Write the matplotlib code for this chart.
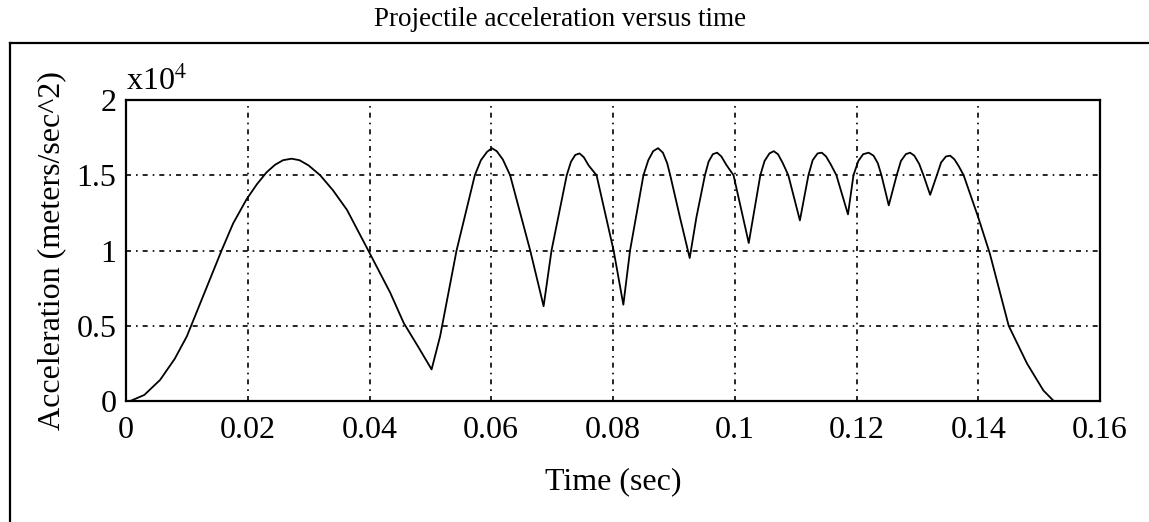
import matplotlib.pyplot as plt
from matplotlib.lines import Line2D
import numpy as np

plt.rcParams['font.family'] = ['Liberation Serif', 'DejaVu Serif']
plt.rcParams['mathtext.fontset'] = 'stix'

# Datos (tiempo en s, aceleracion en m/s^2)
tiempo = [0.0007, 0.0030, 0.0056, 0.0080, 0.0100, 0.0133, 0.0157, 0.0176, 0.0198,
          0.0215, 0.0231, 0.0245, 0.0258, 0.0272, 0.0285, 0.0300, 0.0319, 0.0340,
          0.0363, 0.0398, 0.0434, 0.0456, 0.0480, 0.0502, 0.0516, 0.0543, 0.0573,
          0.0583, 0.0593, 0.0601, 0.0609, 0.0619, 0.0631, 0.0664, 0.0686, 0.0699,
          0.0724, 0.0731, 0.0738, 0.0745, 0.0752, 0.0760, 0.0773, 0.0801, 0.0817,
          0.0828, 0.0850, 0.0858, 0.0866, 0.0874, 0.0882, 0.0889, 0.0894, 0.0910,
          0.0926, 0.0937, 0.0951, 0.0957, 0.0964, 0.0971, 0.0978, 0.0986, 0.0998,
          0.1023, 0.1042, 0.1049, 0.1057, 0.1064, 0.1071, 0.1079, 0.1088, 0.1107,
          0.1121, 0.1128, 0.1136, 0.1143, 0.1150, 0.1158, 0.1167, 0.1186, 0.1195,
          0.1203, 0.1211, 0.1220, 0.1228, 0.1235, 0.1241, 0.1253, 0.1266, 0.1273,
          0.1281, 0.1288, 0.1295, 0.1303, 0.1310, 0.1321, 0.1332, 0.1339, 0.1347,
          0.1354, 0.1361, 0.1368, 0.1376, 0.1400, 0.1419, 0.1450, 0.1480, 0.1507,
          0.1524]
aceleracion = [0, 400, 1400, 2800, 4300, 7600, 10000, 11800, 13400,
               14400, 15200, 15700, 16000, 16100, 16000, 15650, 15000, 14000,
               12700, 10000, 7200, 5200, 3600, 2100, 4300, 10000, 15000,
               16000, 16550, 16800, 16600, 16050, 15000, 10000, 6300, 10000,
               15000, 15900, 16350, 16450, 16200, 15650, 15000, 10000, 6400,
               10000, 15000, 16000, 16600, 16800, 16500, 15800, 15000, 12200,
               9500, 12200, 15000, 15900, 16400, 16500, 16250, 15700, 15000,
               10500, 15000, 15950, 16450, 16600, 16400, 15800, 15000, 12000,
               15000, 16000, 16450, 16500, 16250, 15700, 15000, 12400, 15000,
               15950, 16400, 16500, 16300, 15800, 15000, 13000, 15000, 15950,
               16400, 16500, 16300, 15750, 15000, 13700, 15000, 15850, 16250,
               16300, 16050, 15600, 15000, 12200, 9800, 5000, 2500, 700,
               0]

xticks = [0, 0.02, 0.04, 0.06, 0.08, 0.1, 0.12, 0.14, 0.16]
xtick_labels = ['0', '0.02', '0.04', '0.06', '0.08', '0.1', '0.12', '0.14', '0.16']
yticks = [0, 0.5, 1, 1.5, 2]
ytick_labels = ['0', '0.5', '1', '1.5', '2']

fig = plt.figure(figsize=(11.49, 5.22), dpi=100)
ax = fig.add_axes([126 / 1149, 1 - 401 / 522, (1100 - 126) / 1149, (401 - 100) / 522])

ax.plot(tiempo, np.array(aceleracion) / 1e4, color='black', linewidth=1.3)

ax.set_xlim(0, 0.16)
ax.set_ylim(0, 2)
ax.set_xticks(xticks)
ax.set_xticklabels(xtick_labels)
ax.set_yticks(yticks)
ax.set_yticklabels(ytick_labels)
ax.tick_params(direction='in', length=0, labelsize=23, pad=7)
ax.tick_params(axis='x', pad=11)
ax.grid(True, color='black', linestyle=(0, (3, 3, 1, 3)), linewidth=1.2)
for s in ax.spines.values():
    s.set_linewidth(1.6)

ax.text(0, 1.01, r'x10$^{4}$', transform=ax.transAxes, fontsize=23, ha='left', va='bottom')
ax.set_xlabel('Time (sec)', fontsize=23, labelpad=16)
ax.set_ylabel('Acceleration (meters/sec^2)', fontsize=23)
ax.yaxis.set_label_coords(-(126 - 66) / 974, 0.5)

fig.text(560 / 1149, 1 - 20 / 522, 'Projectile acceleration versus time',
         fontsize=19.5, ha='center', va='center')

# Marco exterior
x0 = 10 / 1149
y0 = 1 - 43 / 522
fig.add_artist(Line2D([x0, x0], [0, y0], color='black', linewidth=1.6, transform=fig.transFigure))
fig.add_artist(Line2D([x0, 1], [y0, y0], color='black', linewidth=1.6, transform=fig.transFigure))

plt.savefig('out.png', dpi=100)
